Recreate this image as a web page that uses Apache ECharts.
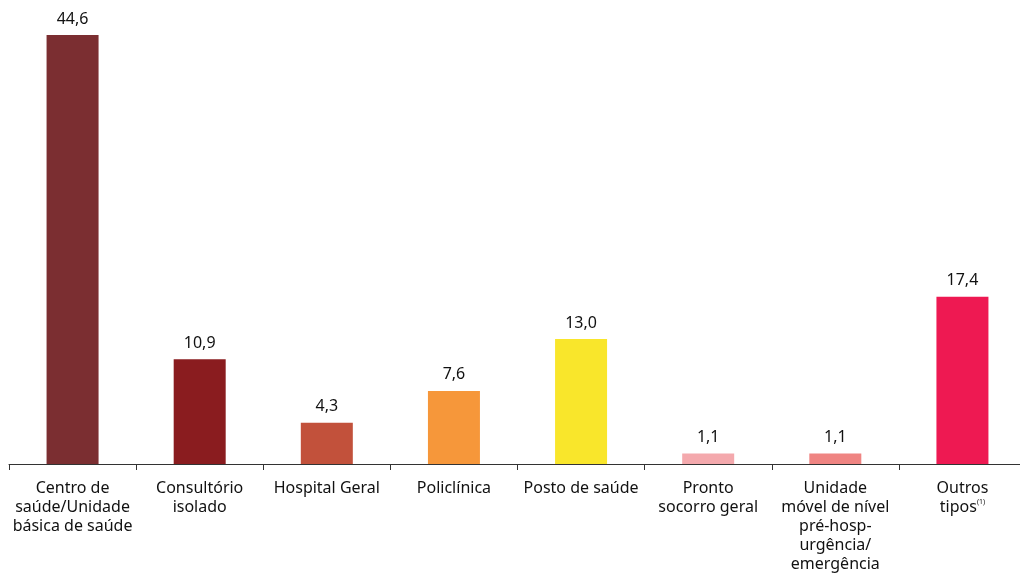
<!DOCTYPE html>
<html>
<head>
<meta charset="utf-8">
<script src="https://cdn.jsdelivr.net/npm/echarts@6/dist/echarts.min.js"></script>
<style>
  html, body { margin: 0; padding: 0; background: #fff; overflow: hidden; }
  #chart { width: 1030px; height: 574px; }
</style>
</head>
<body>
<div id="chart"></div>
<script>
var categories = [
  'Centro de\nsaúde/Unidade\nbásica de saúde',
  'Consultório\nisolado',
  'Hospital Geral',
  'Policlínica',
  'Posto de saúde',
  'Pronto\nsocorro geral',
  'Unidade\nmóvel de nível\npré-hosp-\nurgência/\nemergência',
  'Outros\ntipos{sup|(1)}'
];
var values = [44.6, 10.9, 4.3, 7.6, 13.0, 1.1, 1.1, 17.4];
var colors = ['#7b2e31', '#8a1c1f', '#c2513b', '#f6973a', '#f9e62b', '#f4a9ad', '#ef8482', '#ee1952'];

var chart = echarts.init(document.getElementById('chart'));

// the last category runs past the right edge of the picture, so the canvas is a bit wider
var option = {
  animation: false,
  grid: {
    left: 9,
    right: 4,
    top: 35,
    bottom: 108,
    containLabel: false
  },
  xAxis: {
    type: 'category',
    data: categories,
    axisLine: { lineStyle: { color: '#333', width: 1 } },
    axisTick: { show: true, length: 6, lineStyle: { color: '#333' } },
    axisLabel: {
      interval: 0,
      color: '#111',
      fontFamily: 'Noto Sans',
      fontSize: 16,
      lineHeight: 19,
      margin: 15,
      rich: {
        sup: { fontSize: 7, verticalAlign: 'top', padding: [0, 0, 9, 0] }
      }
    }
  },
  yAxis: {
    type: 'value',
    min: 0,
    max: 44.6,
    show: false,
    splitLine: { show: false }
  },
  series: [
    {
      type: 'bar',
      barWidth: 52,
      data: values.map(function (v, i) {
        return { value: v, itemStyle: { color: colors[i] } };
      }),
      label: {
        show: true,
        position: 'top',
        distance: 8,
        color: '#111',
        fontFamily: 'Noto Sans',
        fontSize: 16,
        formatter: function (p) {
          return p.value.toFixed(1).replace('.', ',');
        }
      }
    }
  ]
};

chart.setOption(option);
</script>
</body>
</html>
